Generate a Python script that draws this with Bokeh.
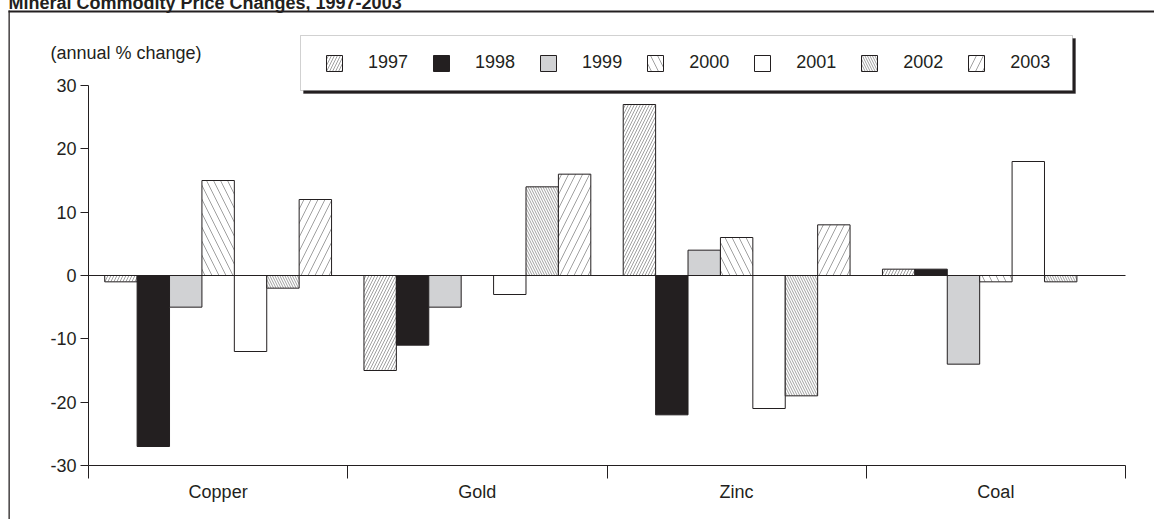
from bokeh.plotting import figure
from bokeh.models import (FixedTicker, BoxAnnotation, Label, Legend,
                          LegendItem, ColumnDataSource, Range1d)
from bokeh.embed import file_html
from bokeh.resources import INLINE

# ---- data ----
categories = ["Copper", "Gold", "Zinc", "Coal"]
years = ["1997", "1998", "1999", "2000", "2001", "2002", "2003"]
copper = [-1, -27, -5, 15, -12, -2, 12]
gold = [-15, -11, -5, 0, -3, 14, 16]
zinc = [27, -22, 4, 6, -21, -19, 8]
coal = [1, 1, -14, -1, 18, -1, 0]
y_ticks = [-30, -20, -10, 0, 10, 20, 30]
title_text = "Mineral Commodity Price Changes, 1997-2003"
unit_text = "(annual % change)"

INK = "#231f20"
FONT = "Liberation Sans"

# per-year styles
fills = ["white", INK, "#d1d2d4", "white", "white", "white", "white"]
hatches = ["/", None, None, "\\", None, "\\", "/"]
hatch_scales = [6, 12, 12, 14, 12, 5, 14]

# ---- layout geometry (pixels) ----
W, H = 1154, 519
FL, FT, FB = 48, 30, 477           # frame left / top / bottom edges
AX_L, AX_R, AX_T, AX_B = 88, 1125, 85, 465   # axis box
ncat = len(categories)
ymin, ymax = min(y_ticks), max(y_ticks)
xpx = (AX_R - AX_L) / ncat
ypx = (AX_B - AX_T) / (ymax - ymin)
x_range = Range1d(-(AX_L - FL) / xpx, ncat + (W - AX_R) / xpx)
y_range = Range1d(ymin - (FB - AX_B) / ypx, ymax + (AX_T - FT) / ypx)

p = figure(width=W, height=H, output_backend="svg", toolbar_location=None,
           x_range=x_range, y_range=y_range,
           min_border_left=FL, min_border_right=0, min_border_top=FT,
           min_border_bottom=H - FB)
p.outline_line_color = None
p.xgrid.visible = False
p.ygrid.visible = False
p.background_fill_color = "white"
p.border_fill_color = "white"

cu = dict(left_units="canvas", right_units="canvas",
          top_units="canvas", bottom_units="canvas")
# legend shadow and box
p.add_layout(BoxAnnotation(left=303, right=1075, top=38, bottom=93,
                           fill_color=INK, fill_alpha=1, line_color=INK,
                           line_width=1, **cu))
p.add_layout(BoxAnnotation(left=300, right=1072, top=35, bottom=90,
                           fill_color="white", fill_alpha=1, line_color="#666666",
                           line_width=1, **cu))

n = len(years)
group = 0.875
w = group / n
items = []
for i, yr in enumerate(years):
    vals = [copper[i], gold[i], zinc[i], coal[i]]
    xs = [k + 0.5 + (i - (n - 1) / 2) * w for k in range(ncat)]
    src = ColumnDataSource(dict(x=xs, top=vals))
    kw = dict(fill_color=fills[i], line_color=INK, line_width=1)
    if hatches[i]:
        kw.update(hatch_pattern=hatches[i], hatch_scale=hatch_scales[i],
                  hatch_color="#777777", hatch_weight=0.7)
    r = p.vbar(x="x", top="top", bottom=0, width=w, source=src, **kw)
    items.append(LegendItem(label=yr, renderers=[r]))

# zero line and category-axis baseline across the category span
p.segment(x0=[0, 0], x1=[ncat, ncat], y0=[0, ymin], y1=[0, ymin],
          line_color=INK, line_width=1)

legend = Legend(items=items, orientation="horizontal",
                location=(324 - FL, FB - 73),
                glyph_width=20, glyph_height=20, label_standoff=24, spacing=23,
                padding=0, margin=0, border_line_color=None,
                background_fill_alpha=0, label_text_font=FONT,
                label_text_font_size="18px", label_text_color=INK,
                label_height=20)
p.add_layout(legend, "center")

# category axis: boundary ticks reach from the baseline down below the frame
xa = p.xaxis[0]
xa.ticker = FixedTicker(ticks=[k + 0.5 for k in range(ncat)],
                        minor_ticks=list(range(ncat + 1)))
xa.major_label_overrides = {k + 0.5: c for k, c in enumerate(categories)}
xa.major_tick_line_color = None
xa.major_tick_out = 0
xa.major_tick_in = 0
xa.minor_tick_out = 1
xa.minor_tick_in = FB - AX_B
xa.minor_tick_line_color = INK
xa.axis_line_color = None
xa.major_label_standoff = 3
xa.major_label_text_font = FONT
xa.major_label_text_font_size = "18px"
xa.major_label_text_color = INK

ya = p.yaxis[0]
ya.fixed_location = 0
ya.bounds = (ymin, ymax)
ya.ticker = FixedTicker(ticks=y_ticks, minor_ticks=[])
ya.major_label_overrides = {t: str(t) for t in y_ticks}
ya.major_tick_out = 8
ya.major_tick_in = 0
ya.major_tick_line_color = INK
ya.axis_line_color = INK
ya.major_label_standoff = 4
ya.major_label_text_font = FONT
ya.major_label_text_font_size = "18px"
ya.major_label_text_color = INK

# unit note (inside the frame)
p.add_layout(Label(x=50, y=52, x_units="canvas", y_units="canvas", text=unit_text,
                   text_font=FONT, text_font_size="18px", text_color=INK,
                   text_baseline="middle"))

# chart-area border: thin filled label boxes placed in side panels (not clipped)
p.add_layout(Label(x=8, y=10, x_units="canvas", y_units="canvas", text=" ",
                   text_font_size="1px", anchor="top_left",
                   padding=dict(left=0, right=W, top=1, bottom=0),
                   background_fill_color=INK, background_fill_alpha=1,
                   border_line_color=None), "above")
p.add_layout(Label(x=8, y=10, x_units="canvas", y_units="canvas", text=" ",
                   text_font_size="1px", anchor="top_left",
                   padding=dict(left=1, right=0, top=0, bottom=H),
                   background_fill_color=INK, background_fill_alpha=1,
                   border_line_color=None), "left")
# title (cut at the top edge, as in the source)
p.add_layout(Label(x=8, y=2, x_units="canvas", y_units="canvas", text=title_text,
                   text_font=FONT, text_font_size="18px", text_font_style="bold",
                   text_color=INK, text_baseline="alphabetic"), "above")

open("out.html", "w").write(file_html(p, INLINE))
